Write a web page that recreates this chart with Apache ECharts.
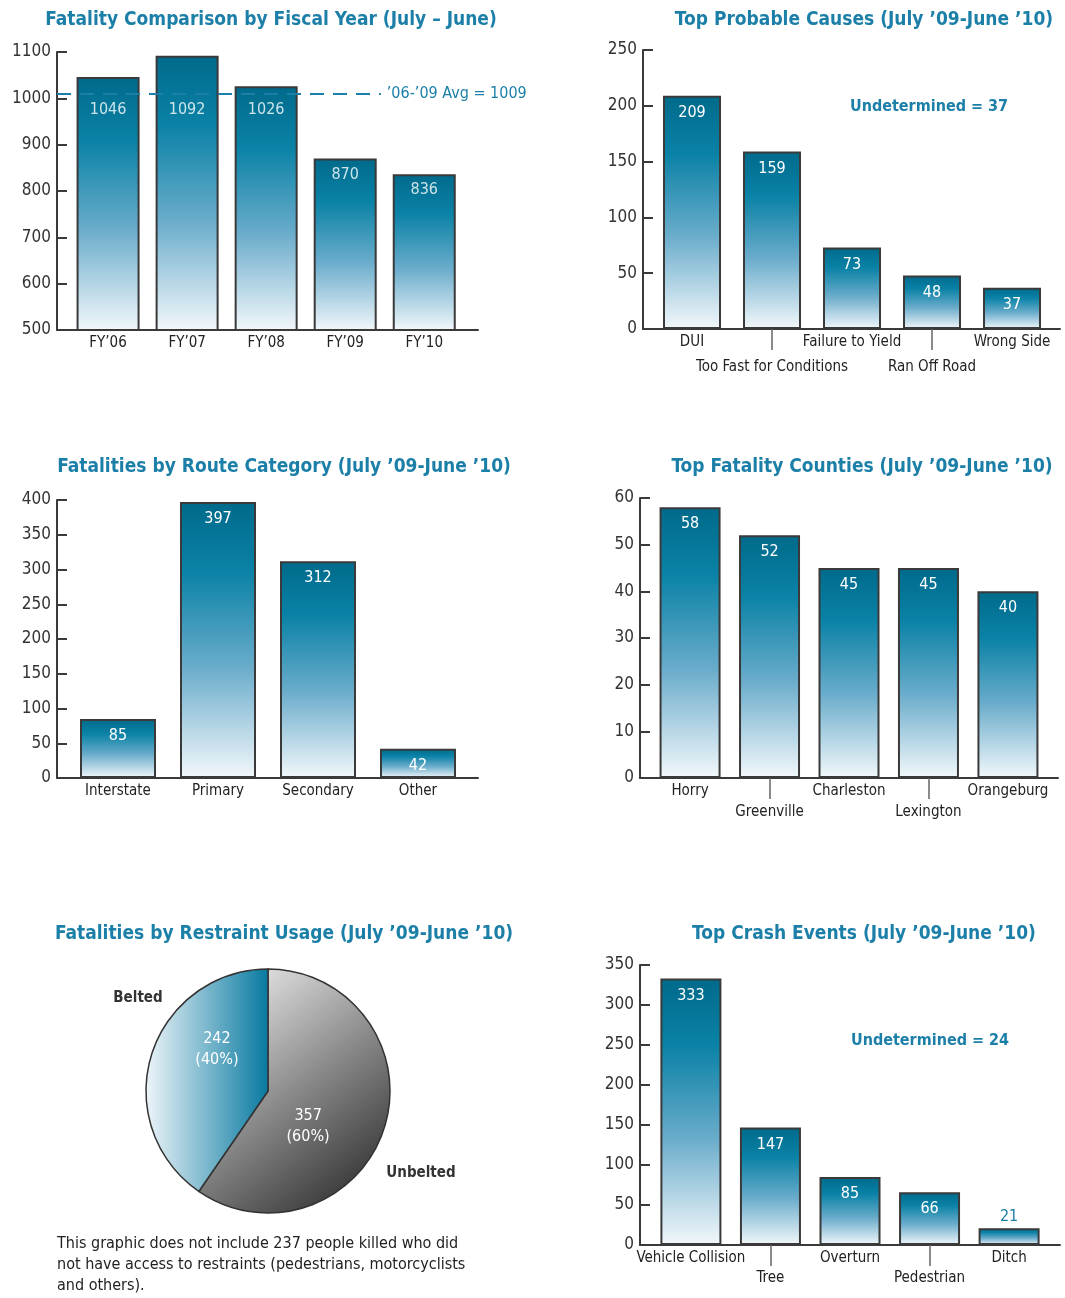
<!DOCTYPE html>
<html>
<head>
<meta charset="utf-8">
<title>SC Fatality Statistics</title>
<script src="https://cdn.jsdelivr.net/npm/echarts@6/dist/echarts.min.js"></script>
<style>
  html, body { margin: 0; padding: 0; background: #fff; }
  #main { width: 1065px; height: 1298px; }
</style>
</head>
<body>
<div id="main"></div>
<script>
// data
var fyCats = ['FY\u201906', 'FY\u201907', 'FY\u201908', 'FY\u201909', 'FY\u201910'];
var fyVals = [1046, 1092, 1026, 870, 836];
var fyAvg = 1009;
var fyTicks = [500, 1100, 100];

var causeCats = ['DUI', 'Too Fast for Conditions', 'Failure to Yield', 'Ran Off Road', 'Wrong Side'];
var causeVals = [209, 159, 73, 48, 37];
var causeTicks = [0, 250, 50];

var routeCats = ['Interstate', 'Primary', 'Secondary', 'Other'];
var routeVals = [85, 397, 312, 42];
var routeTicks = [0, 400, 50];

var countyCats = ['Horry', 'Greenville', 'Charleston', 'Lexington', 'Orangeburg'];
var countyVals = [58, 52, 45, 45, 40];
var countyTicks = [0, 60, 10];

var restraintCats = ['Unbelted', 'Belted'];
var restraintVals = [357, 242];

var eventCats = ['Vehicle Collision', 'Tree', 'Overturn', 'Pedestrian', 'Ditch'];
var eventVals = [333, 147, 85, 66, 21];
var eventTicks = [0, 350, 50];

var FONT = "'DejaVu Sans Condensed', 'Liberation Sans Narrow', sans-serif";
var TEAL = '#1b7fa8';
var AXIS = '#3a3a3a';

var barFill = {
  type: 'linear', x: 0, y: 0, x2: 0, y2: 1,
  colorStops: [
    { offset: 0, color: '#006a8b' },
    { offset: 0.25, color: '#0a82a6' },
    { offset: 0.6, color: '#6aaccb' },
    { offset: 1, color: '#f3f8fb' }
  ]
};

// one axis for the first row of names; staggered charts get a second,
// line-less axis on the same grid carrying the lower row and its long ticks
function xAxesFor(grid, cats, range, lowerMargin) {
  var idx = cats.map(function (c, i) { return i; });
  var upper = lowerMargin ? idx.filter(function (i) { return i % 2 === 0; }) : idx;
  var lower = idx.filter(function (i) { return i % 2 === 1; });
  var name = function (v) { return cats[Math.round(v)]; };
  var axes = [{
    gridIndex: grid, type: 'value', min: range[0], max: range[1], position: 'bottom',
    splitLine: { show: false },
    axisLine: { show: true, onZero: false, lineStyle: { color: AXIS, width: 2 } },
    axisTick: { show: false },
    axisLabel: {
      customValues: upper, margin: 6, showMinLabel: true, showMaxLabel: true,
      color: '#222', fontSize: 15, fontFamily: FONT, formatter: name
    }
  }];
  if (lowerMargin) {
    axes.push({
      gridIndex: grid, type: 'value', min: range[0], max: range[1], position: 'bottom',
      splitLine: { show: false },
      axisLine: { show: false, onZero: false },
      axisTick: { show: true, customValues: lower, length: 21, lineStyle: { color: '#666', width: 1.5 } },
      axisLabel: {
        customValues: lower, margin: lowerMargin, showMinLabel: true, showMaxLabel: true,
        color: '#222', fontSize: 15, fontFamily: FONT, formatter: name
      }
    });
  }
  return axes;
}

function yAxisFor(grid, t) {
  return {
    gridIndex: grid, type: 'value', min: t[0], max: t[1], interval: t[2],
    splitLine: { show: false },
    axisLine: { show: true, onZero: false, lineStyle: { color: AXIS, width: 2 } },
    axisTick: { show: true, inside: true, length: 10, lineStyle: { color: AXIS, width: 2 } },
    axisLabel: {
      color: '#333', fontSize: 17, fontFamily: FONT, margin: 6,
      formatter: function (v) { return String(v); }
    }
  };
}

function barSeries(xIdx, yIdx, vals, width, ymax, showLabel) {
  return {
    type: 'bar', xAxisIndex: xIdx, yAxisIndex: yIdx, barWidth: width,
    data: vals.map(function (v, i) {
      var item = { value: [i, v] };
      // too short to hold the number, put it above
      if (v / ymax < 0.08) item.label = { position: 'top', color: TEAL, distance: 3 };
      return item;
    }),
    itemStyle: { color: barFill, borderColor: AXIS, borderWidth: 2 },
    label: {
      show: showLabel, position: 'insideTop', distance: 9,
      color: '#fff', fontSize: 16, fontFamily: FONT,
      formatter: function (p) { return p.value[1]; }
    }
  };
}

function text(x, y, str, size, color, weight, align) {
  return {
    type: 'text', x: x, y: y, silent: true,
    style: {
      text: str, fill: color, fontSize: size, fontFamily: FONT,
      fontWeight: weight || 'normal', align: align || 'center', verticalAlign: 'middle', lineHeight: 21
    }
  };
}

var fyRange = [-0.646, 4.68];
var fySeries = barSeries(0, 0, fyVals, 63, fyTicks[1], false);
fySeries.markLine = {
  symbol: 'none', silent: true,
  lineStyle: { color: TEAL, type: [14, 9], width: 2 },
  label: { position: 'end', distance: 6, color: TEAL, fontSize: 16, fontFamily: FONT, formatter: '\u201906-\u201909 Avg = ' + fyAvg },
  data: [[{ coord: [fyRange[0], fyAvg] }, { coord: [3.45, fyAvg] }]]
};

// x axis indices: 0 fy | 1,2 causes | 3 route | 4,5 counties | 6,7 events
var xAxes = [].concat(
  xAxesFor(0, fyCats, fyRange, 0),
  xAxesFor(1, causeCats, [-0.6125, 4.6], 31),
  xAxesFor(2, routeCats, [-0.61, 3.6], 0),
  xAxesFor(3, countyCats, [-0.63, 4.63], 27),
  xAxesFor(4, eventCats, [-0.64, 4.64], 26)
);

var myChart = echarts.init(document.getElementById('main'));

var option = {
  animation: false,
  backgroundColor: '#fff',
  grid: [
    { left: 57, right: 587, top: 52, bottom: 968 },
    { left: 643, right: 5, top: 50, bottom: 969 },
    { left: 57, right: 587, top: 500, bottom: 520 },
    { left: 640, right: 7, top: 498, bottom: 520 },
    { left: 640, right: 5, top: 965, bottom: 53 }
  ],
  xAxis: xAxes,
  yAxis: [
    yAxisFor(0, fyTicks),
    yAxisFor(1, causeTicks),
    yAxisFor(2, routeTicks),
    yAxisFor(3, countyTicks),
    yAxisFor(4, eventTicks)
  ],
  series: [
    fySeries,
    {
      // value labels of the fiscal year bars, kept under the average line
      type: 'scatter', xAxisIndex: 0, yAxisIndex: 0, symbolSize: 0, z: 5,
      data: fyVals.map(function (v, i) { return [i, Math.min(v, fyAvg), v]; }),
      label: {
        show: true, position: 'bottom', distance: 8,
        color: '#fff', fontSize: 16, fontFamily: FONT,
        formatter: function (p) { return p.value[2]; }
      }
    },
    barSeries(1, 1, causeVals, 58, causeTicks[1], true),
    barSeries(3, 2, routeVals, 76, routeTicks[1], true),
    barSeries(4, 3, countyVals, 61, countyTicks[1], true),
    barSeries(6, 4, eventVals, 61, eventTicks[1], true),
    {
      type: 'pie', center: [268, 1091], radius: 122,
      startAngle: 90, clockwise: true, percentPrecision: 0, silent: true,
      data: restraintCats.map(function (c, i) {
        return {
          name: c, value: restraintVals[i],
          itemStyle: {
            color: i === 0
              ? { type: 'linear', x: 0, y: 0, x2: 1, y2: 1, colorStops: [{ offset: 0, color: '#fbfbfb' }, { offset: 0.5, color: '#8a8a8a' }, { offset: 1, color: '#1e1e1e' }] }
              : { type: 'linear', x: 0, y: 0, x2: 1, y2: 0, colorStops: [{ offset: 0, color: '#eef5f9' }, { offset: 1, color: '#0779a0' }] }
          }
        };
      }),
      itemStyle: { borderColor: '#333', borderWidth: 1.5 },
      label: { position: 'inside', formatter: '{c}\n({d}%)', color: '#fff', fontSize: 16, lineHeight: 21, fontFamily: FONT },
      labelLine: { show: false },
      labelLayout: function (p) {
        return p.dataIndex === 1 ? { dx: 10, dy: -23 } : { dx: -21, dy: 16 };
      }
    }
  ],
  graphic: [
    text(271, 20, 'Fatality Comparison by Fiscal Year (July \u2013 June)', 19, TEAL, 'bold'),
    text(864, 20, 'Top Probable Causes (July \u201909-June \u201910)', 19, TEAL, 'bold'),
    text(284, 467, 'Fatalities by Route Category (July \u201909-June \u201910)', 19, TEAL, 'bold'),
    text(862, 467, 'Top Fatality Counties (July \u201909-June \u201910)', 19, TEAL, 'bold'),
    text(284, 934, 'Fatalities by Restraint Usage (July \u201909-June \u201910)', 19, TEAL, 'bold'),
    text(864, 934, 'Top Crash Events (July \u201909-June \u201910)', 19, TEAL, 'bold'),
    text(929, 107, 'Undetermined = 37', 16, TEAL, 'bold'),
    text(930, 1041, 'Undetermined = 24', 16, TEAL, 'bold'),
    text(138, 998, 'Belted', 15, '#333', 'bold'),
    text(421, 1173, 'Unbelted', 15, '#333', 'bold'),
    text(57, 1265, 'This graphic does not include 237 people killed who did\nnot have access to restraints (pedestrians, motorcyclists\nand others).', 16, '#222', 'normal', 'left')
  ]
};

myChart.setOption(option);
</script>
</body>
</html>
